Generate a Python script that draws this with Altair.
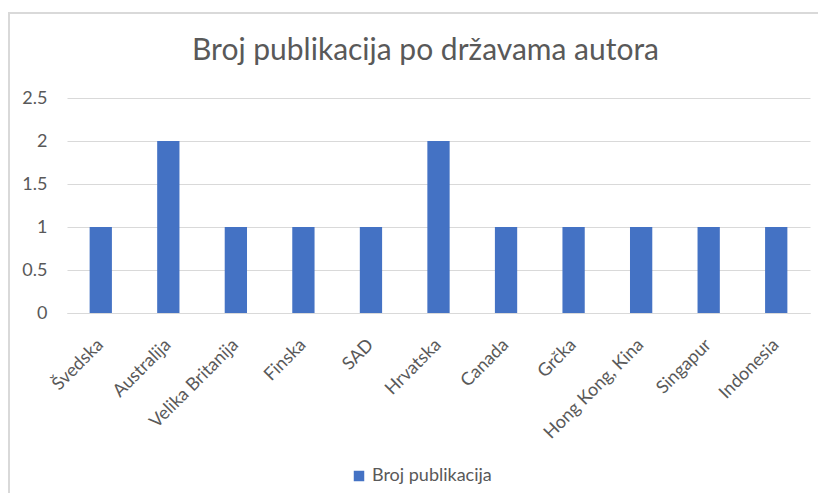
import altair as alt
import pandas as pd

countries = ["Švedska", "Australija", "Velika Britanija", "Finska", "SAD", "Hrvatska",
             "Canada", "Grčka", "Hong Kong, Kina", "Singapur", "Indonesia"]
publications = [1, 2, 1, 1, 1, 2, 1, 1, 1, 1, 1]
series_name = "Broj publikacija"
y_ticks = [0, 0.5, 1, 1.5, 2, 2.5]

df = pd.DataFrame({"Država": countries, "Broj": publications,
                   "Serija": [series_name] * len(countries)})

FONT = "Lato"
TXT = "#595959"
GRID = "#d9d9d9"

bars = alt.Chart(df).mark_bar().encode(
    x=alt.X("Država:N", sort=countries,
            scale=alt.Scale(paddingInner=0.67, paddingOuter=0.335),
            axis=alt.Axis(title=None, labelAngle=-45, labelAlign="right",
                          labelBaseline="middle", labelPadding=29,
                          labelFontSize=18, ticks=False, domain=True,
                          domainColor=GRID, grid=False)),
    y=alt.Y("Broj:Q", scale=alt.Scale(domain=[0, 2.5]),
            axis=alt.Axis(title=None, values=y_ticks, format="~g",
                          labelFontSize=18, ticks=False, domain=False,
                          grid=True, gridColor=GRID, labelPadding=20)),
    color=alt.Color("Serija:N", scale=alt.Scale(range=["#4472C4"]),
                    legend=alt.Legend(title=None, orient="none", legendX=283,
                                      legendY=369, symbolType="square",
                                      symbolSize=110, labelFontSize=18,
                                      labelColor=TXT, labelFont=FONT,
                                      symbolStrokeWidth=0)),
)

frame_left = alt.Chart(df).mark_rule(color=GRID, strokeWidth=1.5).encode(
    x=alt.value(-58.2), x2=alt.value(-58.2), y=alt.value(-85), y2=alt.value(420))
frame_top = alt.Chart(df).mark_rule(color=GRID, strokeWidth=1.5).encode(
    x=alt.value(-59), x2=alt.value(760), y=alt.value(-85), y2=alt.value(-85))

chart = alt.layer(frame_left, frame_top, bars).properties(
    width=743, height=215,
    autosize=alt.AutoSizeParams(type="none"),
    padding={"left": 59, "top": 90, "right": 8, "bottom": 180},
    title=alt.TitleParams("Broj publikacija po državama autora", fontSize=30,
                          font=FONT, fontWeight="normal", color=TXT,
                          anchor="middle", frame="group", offset=-54, dx=-13),
).configure_view(stroke=None).configure_axis(
    labelColor=TXT, labelFont=FONT
)

chart.save("out.html", embed_options={"renderer": "svg", "actions": False})
